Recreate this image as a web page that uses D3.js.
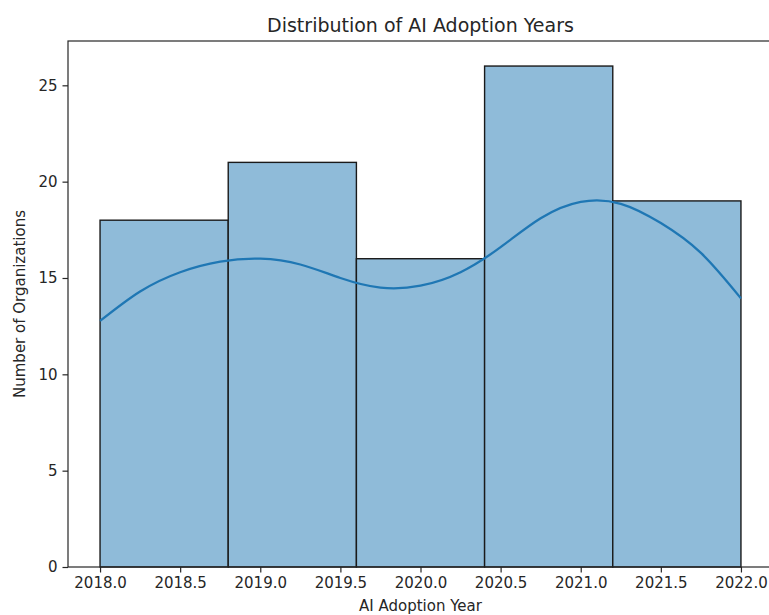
<!DOCTYPE html>
<html>
<head>
<meta charset="utf-8">
<script src="https://cdn.jsdelivr.net/npm/d3@7"></script>
<style>
  body { margin: 0; background: #fff; }
  text { font-family: "DejaVu Sans", sans-serif; fill: #262626; }
</style>
</head>
<body>
<div class="chart"></div>
<script>
// histogram bins (left edges), bin width and counts
var binStarts = [2018.0, 2018.8, 2019.6, 2020.4, 2021.2];
var binWidth = 0.8;
var counts = [18, 21, 16, 26, 19];

// kde curve
var kdeYears = [2018.0, 2018.25, 2018.5, 2018.75, 2019.0, 2019.25, 2019.5, 2019.75, 2020.0, 2020.25, 2020.5, 2020.75, 2021.0, 2021.25, 2021.5, 2021.75, 2022.0];
var kdeValues = [12.77, 14.3, 15.3, 15.85, 16.0, 15.7, 15.0, 14.5, 14.6, 15.3, 16.6, 18.1, 18.95, 18.85, 17.85, 16.3, 13.94];

var xTicks = [2018.0, 2018.5, 2019.0, 2019.5, 2020.0, 2020.5, 2021.0, 2021.5, 2022.0];
var yTicks = [0, 5, 10, 15, 20, 25];

var svgWidth = 769;
var svgHeight = 615;

var margin = { top: 41, left: 68 };
var width = 705;   // axes run past the right edge of the picture
var height = 526;

var svg = d3.select(".chart")
  .append("svg")
  .attr("width", svgWidth)
  .attr("height", svgHeight);

var chartGroup = svg.append("g")
  .attr("transform", `translate(${margin.left}, ${margin.top})`);

var xScale = d3.scaleLinear()
  .domain([2017.8, 2022.2])
  .range([0, width]);

var yScale = d3.scaleLinear()
  .domain([0, 27.3])
  .range([height, 0]);

// bars
chartGroup.selectAll("rect.bar")
  .data(counts)
  .enter()
  .append("rect")
  .attr("class", "bar")
  .attr("x", (d, i) => xScale(binStarts[i]))
  .attr("y", d => yScale(d))
  .attr("width", (d, i) => xScale(binStarts[i] + binWidth) - xScale(binStarts[i]))
  .attr("height", d => yScale(0) - yScale(d))
  .attr("fill", "#8fbbd9")
  .attr("stroke", "#1a1a1a")
  .attr("stroke-width", 1.4);

// kde line
var line = d3.line()
  .x((d, i) => xScale(kdeYears[i]))
  .y(d => yScale(d))
  .curve(d3.curveNatural);

chartGroup.append("path")
  .datum(kdeValues)
  .attr("d", line)
  .attr("fill", "none")
  .attr("stroke", "#1f77b4")
  .attr("stroke-width", 2.3);

// axes
var bottomAxis = d3.axisBottom(xScale)
  .tickValues(xTicks)
  .tickFormat(d3.format(".1f"))
  .tickSize(5.5)
  .tickPadding(5);

var leftAxis = d3.axisLeft(yScale)
  .tickValues(yTicks)
  .tickSize(5.5)
  .tickPadding(5);

var xAxis = chartGroup.append("g")
  .attr("transform", `translate(0, ${height})`)
  .call(bottomAxis);

var yAxis = chartGroup.append("g")
  .call(leftAxis);

[xAxis, yAxis].forEach(function (ax) {
  ax.select(".domain").remove();
  ax.selectAll("line").attr("stroke", "#262626").attr("stroke-width", 1.2);
  ax.selectAll("text").attr("font-size", "15px").style("fill", "#262626");
});

// spines
chartGroup.append("rect")
  .attr("x", 0)
  .attr("y", 0)
  .attr("width", width)
  .attr("height", height)
  .attr("fill", "none")
  .attr("stroke", "#262626")
  .attr("stroke-width", 1.2);

// title and labels
svg.append("text")
  .attr("x", margin.left + width / 2)
  .attr("y", 32)
  .attr("text-anchor", "middle")
  .attr("font-size", "19px")
  .text("Distribution of AI Adoption Years");

svg.append("text")
  .attr("x", margin.left + width / 2)
  .attr("y", 611)
  .attr("text-anchor", "middle")
  .attr("font-size", "15px")
  .text("AI Adoption Year");

svg.append("text")
  .attr("transform", `translate(25, ${margin.top + height / 2}) rotate(-90)`)
  .attr("text-anchor", "middle")
  .attr("font-size", "15px")
  .text("Number of Organizations");
</script>
</body>
</html>
